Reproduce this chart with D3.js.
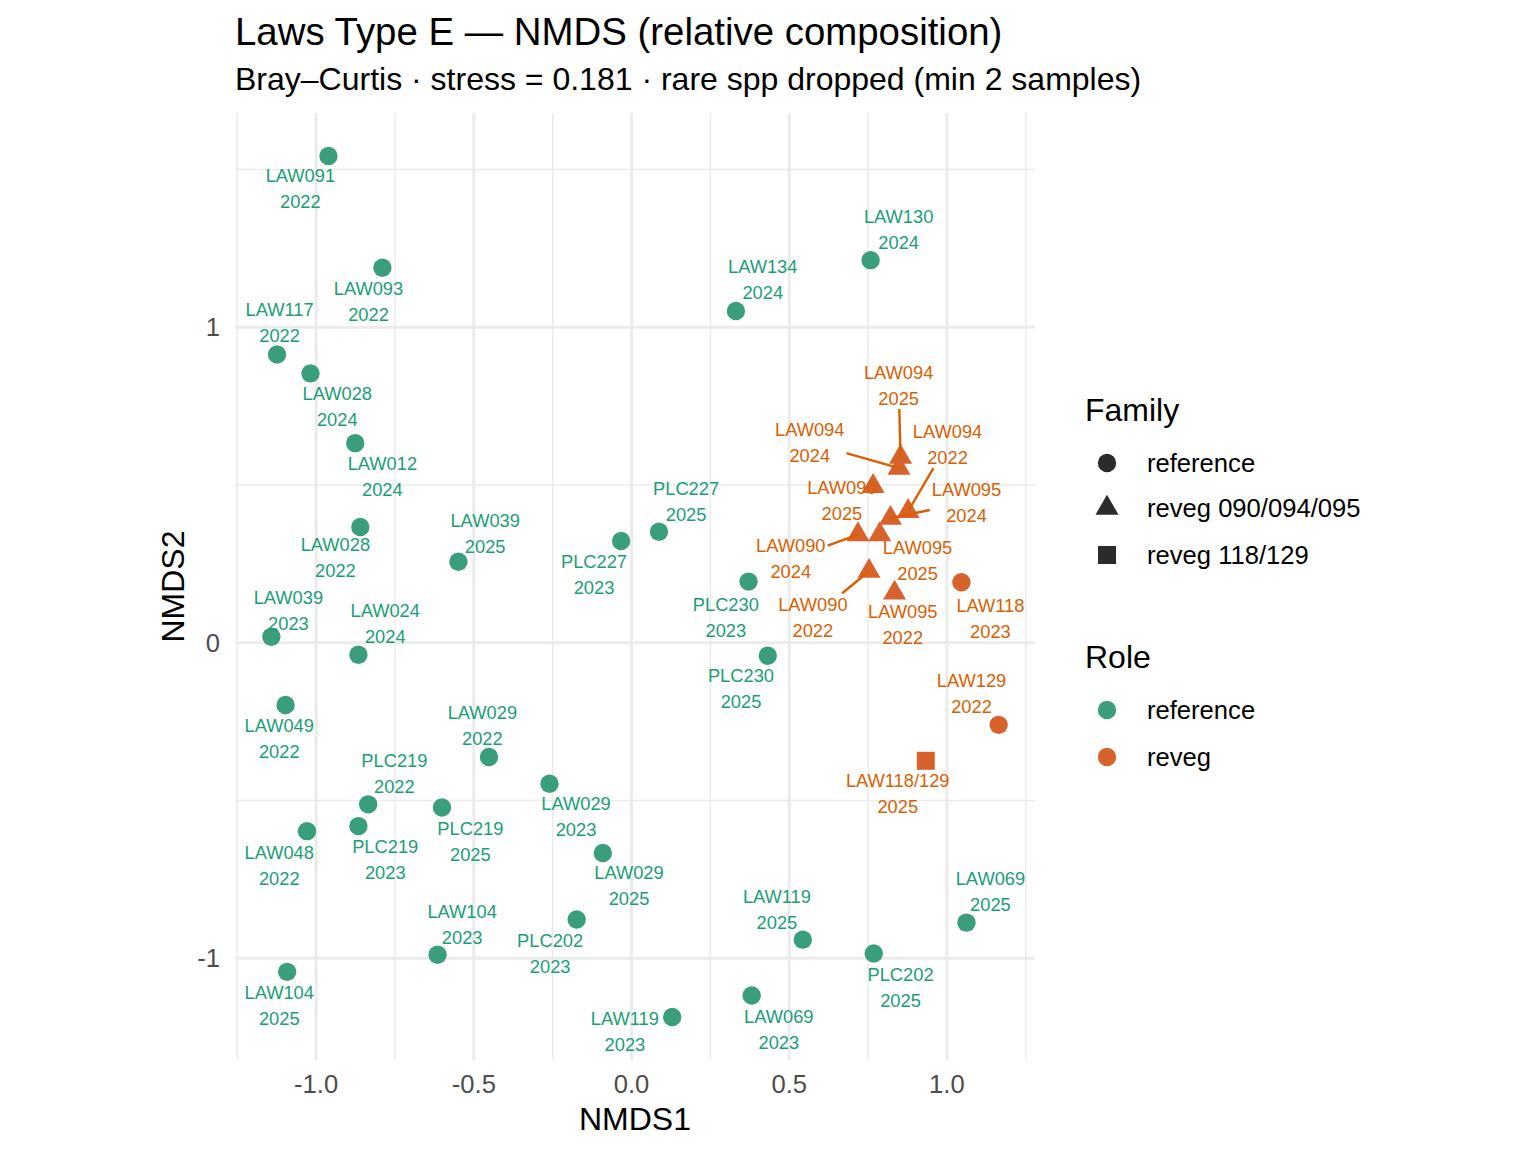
<!DOCTYPE html>
<html>
<head>
<meta charset="utf-8">
<script src="https://cdn.jsdelivr.net/npm/d3@7"></script>
<style>
  html, body { margin: 0; padding: 0; background: #fff; }
  svg { display: block; font-family: "Liberation Sans", Arial, Helvetica, sans-serif; }
</style>
</head>
<body>
<svg id="chart" width="1536" height="1152"></svg>
<script>
// ---------------- data ----------------
const sampleIds = ["LAW091","LAW093","LAW117","LAW028","LAW012","LAW028","LAW039","LAW039","LAW024","LAW049",
  "LAW029","PLC219","PLC219","LAW048","PLC219","LAW029","LAW029","LAW104","PLC202","LAW104",
  "LAW119","PLC227","PLC227","LAW134","LAW130","PLC230","PLC230","LAW119","PLC202","LAW069","LAW069",
  "LAW094","LAW094","LAW094","LAW090","LAW095","LAW090","LAW095","LAW090","LAW095","LAW118","LAW129","LAW118/129"];
const years = ["2022","2022","2022","2024","2024","2022","2025","2023","2024","2022",
  "2022","2022","2023","2022","2025","2023","2025","2023","2023","2025",
  "2023","2025","2023","2024","2024","2023","2025","2025","2025","2023","2025",
  "2025","2024","2022","2025","2024","2024","2025","2022","2022","2023","2022","2025"];
const nmds1 = [-0.961,-0.790,-1.124,-1.018,-0.876,-0.860,-0.549,-1.142,-0.866,-1.097,
  -0.452,-0.835,-0.866,-1.029,-0.601,-0.260,-0.091,-0.615,-0.174,-1.092,
  0.129,0.087,-0.033,0.331,0.758,0.371,0.432,0.543,0.768,0.381,1.062,
  0.853,0.848,0.877,0.766,0.821,0.718,0.787,0.753,0.834,1.046,1.164,0.933];
const nmds2 = [1.543,1.189,0.914,0.854,0.633,0.367,0.257,0.019,-0.038,-0.197,
  -0.362,-0.512,-0.581,-0.597,-0.522,-0.447,-0.666,-0.989,-0.877,-1.043,
  -1.186,0.352,0.323,1.052,1.213,0.194,-0.041,-0.941,-0.985,-1.118,-0.887,
  0.589,0.554,0.417,0.496,0.395,0.343,0.343,0.227,0.158,0.192,-0.260,-0.374];
const roles = sampleIds.map((d,i) => i < 31 ? "reference" : "reveg");
const families = ["reference","reference","reference","reference","reference","reference","reference","reference","reference","reference",
  "reference","reference","reference","reference","reference","reference","reference","reference","reference","reference",
  "reference","reference","reference","reference","reference","reference","reference","reference","reference","reference","reference",
  "reveg 090/094/095","reveg 090/094/095","reveg 090/094/095","reveg 090/094/095","reveg 090/094/095","reveg 090/094/095",
  "reveg 090/094/095","reveg 090/094/095","reveg 090/094/095","reference","reference","reveg 118/129"];

// repelled label positions (data units) and whether a leader segment is drawn
const labelNmds1 = [-1.050,-0.834,-1.116,-0.933,-0.790,-0.939,-0.464,-1.088,-0.781,-1.117,
  -0.473,-0.752,-0.781,-1.117,-0.511,-0.176,-0.008,-0.537,-0.258,-1.117,
  -0.021,0.173,-0.119,0.416,0.847,0.299,0.347,0.461,0.853,0.467,1.138,
  0.847,0.565,1.002,0.667,1.062,0.505,0.907,0.575,0.860,1.138,1.078,0.844];
const labelNmds2 = [1.440,1.083,1.014,0.748,0.526,0.269,0.348,0.101,0.062,-0.304,
  -0.263,-0.415,-0.687,-0.705,-0.629,-0.551,-0.770,-0.892,-0.985,-1.150,
  -1.231,0.448,0.215,1.151,1.311,0.079,-0.146,-0.846,-1.093,-1.226,-0.789,
  0.817,0.634,0.630,0.450,0.445,0.266,0.260,0.081,0.057,0.076,-0.162,-0.478];
const hasSegment = sampleIds.map((d,i) => [31,32,33,35,36,38].includes(i));

const xTicks = [-1.0,-0.5,0.0,0.5,1.0];
const xTickLabels = ["-1.0","-0.5","0.0","0.5","1.0"];
const yTicks = [-1,0,1];
const yTickLabels = ["-1","0","1"];
const xMinor = [-1.25,-0.75,-0.25,0.25,0.75,1.25];
const yMinor = [-0.5,0.5,1.5];

const roleLevels = ["reference","reveg"];
const roleColors = ["#1b9e77","#d95f02"];
const rolePointColors = ["#3a9e7a","#d8622c"];
const familyLevels = ["reference","reveg 090/094/095","reveg 118/129"];

const titleText = "Laws Type E \u2014 NMDS (relative composition)";
const subtitleText = "Bray\u2013Curtis \u00b7 stress = 0.181 \u00b7 rare spp dropped (min 2 samples)";

// ---------------- chart ----------------
const svg = d3.select("#chart");
const panel = {left: 235, right: 1035, top: 113, bottom: 1060};

function expand(ext, f) { const w = ext[1]-ext[0]; return [ext[0]-w*f, ext[1]+w*f]; }
const x = d3.scaleLinear().domain(expand(d3.extent(nmds1), 0.05)).range([panel.left, panel.right]);
const y = d3.scaleLinear().domain(expand(d3.extent(nmds2), 0.05)).range([panel.bottom, panel.top]);
const color = d3.scaleOrdinal().domain(roleLevels).range(roleColors);
const pointColor = d3.scaleOrdinal().domain(roleLevels).range(rolePointColors);

const data = sampleIds.map((id,i) => ({
  id, year: years[i], x: nmds1[i], y: nmds2[i], role: roles[i], family: families[i],
  lx: labelNmds1[i], ly: labelNmds2[i], seg: hasSegment[i]
}));

// grid
const grid = svg.append("g");
grid.selectAll(".xminor").data(xMinor).join("line")
  .attr("x1", d => x(d)).attr("x2", d => x(d)).attr("y1", panel.top).attr("y2", panel.bottom)
  .attr("stroke", "#ebebeb").attr("stroke-width", 1.5);
grid.selectAll(".yminor").data(yMinor.filter(v => y(v) >= panel.top)).join("line")
  .attr("y1", d => y(d)).attr("y2", d => y(d)).attr("x1", panel.left).attr("x2", panel.right)
  .attr("stroke", "#ebebeb").attr("stroke-width", 1.5);
grid.selectAll(".xmajor").data(xTicks).join("line")
  .attr("x1", d => x(d)).attr("x2", d => x(d)).attr("y1", panel.top).attr("y2", panel.bottom)
  .attr("stroke", "#ebebeb").attr("stroke-width", 3);
grid.selectAll(".ymajor").data(yTicks).join("line")
  .attr("y1", d => y(d)).attr("y2", d => y(d)).attr("x1", panel.left).attr("x2", panel.right)
  .attr("stroke", "#ebebeb").attr("stroke-width", 3);

// axes tick labels
svg.append("g").selectAll("text").data(xTicks).join("text")
  .attr("x", d => x(d)).attr("y", 1093).attr("text-anchor", "middle")
  .attr("font-size", 25.6).attr("fill", "#4d4d4d")
  .text((d,i) => xTickLabels[i]);
svg.append("g").selectAll("text").data(yTicks).join("text")
  .attr("x", 220).attr("y", d => y(d) + 9).attr("text-anchor", "end")
  .attr("font-size", 25.6).attr("fill", "#4d4d4d")
  .text((d,i) => yTickLabels[i]);

// axis titles
svg.append("text").attr("x", (panel.left+panel.right)/2).attr("y", 1130)
  .attr("text-anchor", "middle").attr("font-size", 32).attr("fill", "#000").text("NMDS1");
svg.append("text").attr("transform", `translate(184,${(panel.top+panel.bottom)/2}) rotate(-90)`)
  .attr("text-anchor", "middle").attr("font-size", 32).attr("fill", "#000").text("NMDS2");

// title
svg.append("text").attr("x", 235).attr("y", 45).attr("font-size", 38.4).attr("fill", "#000").text(titleText);
svg.append("text").attr("x", 235).attr("y", 90).attr("font-size", 32).attr("fill", "#000").text(subtitleText);

// symbols
const triR = 11.5;
function triPath(s) { return `M0,${-1.1547*s}L${s},${0.5774*s}L${-s},${0.5774*s}Z`; }
function drawShape(g, family, fill) {
  if (family === "reveg 090/094/095") {
    g.append("path").attr("d", triPath(triR)).attr("fill", fill);
  } else if (family === "reveg 118/129") {
    g.append("rect").attr("x", -9).attr("y", -9).attr("width", 18).attr("height", 18).attr("fill", fill);
  } else {
    g.append("circle").attr("r", 9.2).attr("fill", fill);
  }
}

const pts = svg.append("g");
data.forEach(d => {
  const g = pts.append("g").attr("transform", `translate(${x(d.x)},${y(d.y)})`);
  drawShape(g, d.family, pointColor(d.role));
});

// labels
const labelFont = 18.3;
const lineGap = 26;
const measure = svg.append("text").attr("font-size", labelFont).attr("visibility", "hidden");
function textWidth(t) { measure.text(t); return measure.node().getComputedTextLength(); }

const segG = svg.append("g");
const labG = svg.append("g");
data.forEach(d => {
  const cx = x(d.lx), cy = y(d.ly);
  if (d.seg) {
    const px = x(d.x), py = y(d.y);
    const hw = Math.max(textWidth(d.id), textWidth(d.year)) / 2 + 2, hh = 24;
    const dx = px - cx, dy = py - cy;
    const t = Math.min(Math.abs(dx) > 0 ? hw/Math.abs(dx) : Infinity, Math.abs(dy) > 0 ? hh/Math.abs(dy) : Infinity);
    segG.append("line").attr("x1", cx + dx*t).attr("y1", cy + dy*t).attr("x2", px).attr("y2", py)
      .attr("stroke", color(d.role)).attr("stroke-width", 2.4);
  }
  const tg = labG.append("text").attr("text-anchor", "middle").attr("font-size", labelFont)
    .attr("fill", color(d.role));
  tg.append("tspan").attr("x", cx).attr("y", cy - lineGap/2 + 6.5).text(d.id);
  tg.append("tspan").attr("x", cx).attr("y", cy + lineGap/2 + 6.5).text(d.year);
});

// legends
const leg = svg.append("g");
leg.append("text").attr("x", 1085).attr("y", 421).attr("font-size", 32).attr("fill", "#000").text("Family");
const famY = [463, 508, 555];
familyLevels.forEach((f,i) => {
  const g = leg.append("g").attr("transform", `translate(1107,${famY[i]})`);
  drawShape(g, f, "#2b2b2b");
  leg.append("text").attr("x", 1147).attr("y", famY[i] + 9).attr("font-size", 25.6).attr("fill", "#000").text(f);
});
leg.append("text").attr("x", 1085).attr("y", 668).attr("font-size", 32).attr("fill", "#000").text("Role");
const roleY = [710, 757];
roleLevels.forEach((r,i) => {
  leg.append("circle").attr("cx", 1107).attr("cy", roleY[i]).attr("r", 9.2).attr("fill", pointColor(r));
  leg.append("text").attr("x", 1147).attr("y", roleY[i] + 9).attr("font-size", 25.6).attr("fill", "#000").text(r);
});
</script>
</body>
</html>
